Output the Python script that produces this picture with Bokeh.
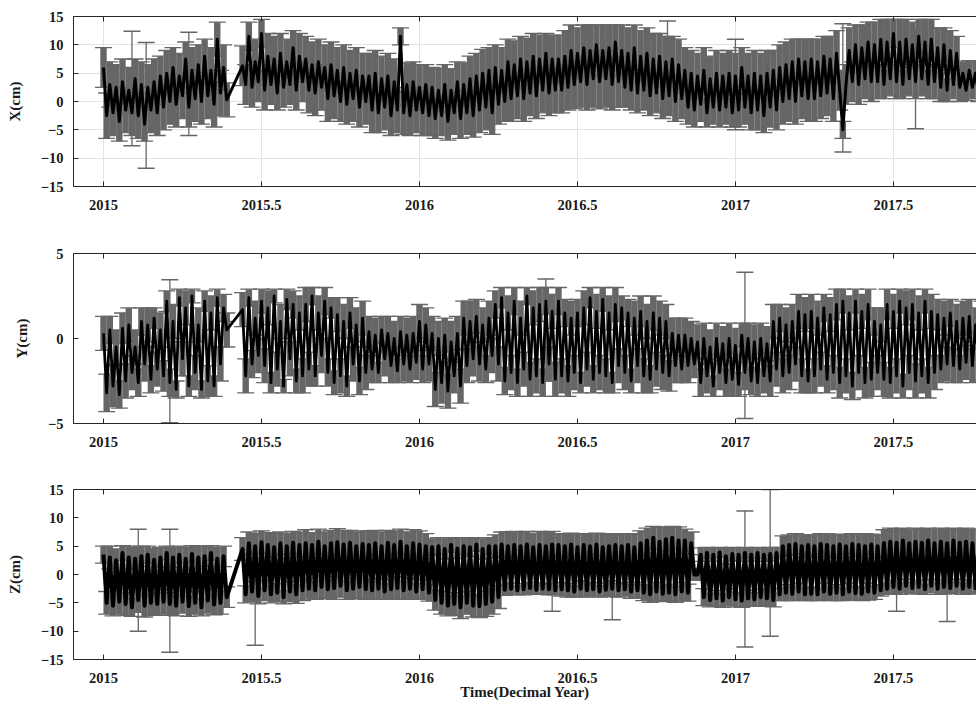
from bokeh.plotting import figure
from bokeh.models import ColumnDataSource, Whisker, TeeHead, LinearAxis, FixedTicker, Range1d
from bokeh.layouts import column
from bokeh.embed import file_html
from bokeh.resources import INLINE

# ---------------- data ----------------
t = [
    2015.00, 2015.01, 2015.02, 2015.03, 2015.04, 2015.05, 2015.06, 2015.07, 2015.08, 2015.09,
    2015.10, 2015.11, 2015.12, 2015.13, 2015.14, 2015.15, 2015.16, 2015.17, 2015.18, 2015.19,
    2015.20, 2015.21, 2015.22, 2015.23, 2015.24, 2015.25, 2015.26, 2015.27, 2015.28, 2015.29,
    2015.30, 2015.31, 2015.32, 2015.33, 2015.34, 2015.35, 2015.36, 2015.37, 2015.38, 2015.39,
    2015.44, 2015.45, 2015.46, 2015.47, 2015.48, 2015.49, 2015.50, 2015.51, 2015.52, 2015.53,
    2015.54, 2015.55, 2015.56, 2015.57, 2015.58, 2015.59, 2015.60, 2015.61, 2015.62, 2015.63,
    2015.64, 2015.65, 2015.66, 2015.67, 2015.68, 2015.69, 2015.70, 2015.71, 2015.72, 2015.73,
    2015.74, 2015.75, 2015.76, 2015.77, 2015.78, 2015.79, 2015.80, 2015.81, 2015.82, 2015.83,
    2015.84, 2015.85, 2015.86, 2015.87, 2015.88, 2015.89, 2015.90, 2015.91, 2015.92, 2015.93,
    2015.94, 2015.95, 2015.96, 2015.97, 2015.98, 2015.99, 2016.00, 2016.01, 2016.02, 2016.03,
    2016.04, 2016.05, 2016.06, 2016.07, 2016.08, 2016.09, 2016.10, 2016.11, 2016.12, 2016.13,
    2016.14, 2016.15, 2016.16, 2016.17, 2016.18, 2016.19, 2016.20, 2016.21, 2016.22, 2016.23,
    2016.24, 2016.25, 2016.26, 2016.27, 2016.28, 2016.29, 2016.30, 2016.31, 2016.32, 2016.33,
    2016.34, 2016.35, 2016.36, 2016.37, 2016.38, 2016.39, 2016.40, 2016.41, 2016.42, 2016.43,
    2016.44, 2016.45, 2016.46, 2016.47, 2016.48, 2016.49, 2016.50, 2016.51, 2016.52, 2016.53,
    2016.54, 2016.55, 2016.56, 2016.57, 2016.58, 2016.59, 2016.60, 2016.61, 2016.62, 2016.63,
    2016.64, 2016.65, 2016.66, 2016.67, 2016.68, 2016.69, 2016.70, 2016.71, 2016.72, 2016.73,
    2016.74, 2016.75, 2016.76, 2016.77, 2016.78, 2016.79, 2016.80, 2016.81, 2016.82, 2016.83,
    2016.84, 2016.85, 2016.86, 2016.87, 2016.88, 2016.89, 2016.90, 2016.91, 2016.92, 2016.93,
    2016.94, 2016.95, 2016.96, 2016.97, 2016.98, 2016.99, 2017.00, 2017.01, 2017.02, 2017.03,
    2017.04, 2017.05, 2017.06, 2017.07, 2017.08, 2017.09, 2017.10, 2017.11, 2017.12, 2017.13,
    2017.14, 2017.15, 2017.16, 2017.17, 2017.18, 2017.19, 2017.20, 2017.21, 2017.22, 2017.23,
    2017.24, 2017.25, 2017.26, 2017.27, 2017.28, 2017.29, 2017.30, 2017.31, 2017.32, 2017.33,
    2017.34, 2017.35, 2017.36, 2017.37, 2017.38, 2017.39, 2017.40, 2017.41, 2017.42, 2017.43,
    2017.44, 2017.45, 2017.46, 2017.47, 2017.48, 2017.49, 2017.50, 2017.51, 2017.52, 2017.53,
    2017.54, 2017.55, 2017.56, 2017.57, 2017.58, 2017.59, 2017.60, 2017.61, 2017.62, 2017.63,
    2017.64, 2017.65, 2017.66, 2017.67, 2017.68, 2017.69, 2017.70, 2017.71, 2017.72, 2017.73,
    2017.74, 2017.75, 2017.76, 2017.77, 2017.78, 2017.79,
]

x_val = [
    6.0, -2.5, 3.0, -2.0, 2.5, -3.5, 3.5, -1.5, 2.0, -2.0, 4.0, -2.5, 3.0, -4.0, 2.5, -1.5, 3.5, -2.0, 4.5, -1.0,
    5.0, 0.0, 6.0, -0.5, 4.5, 1.0, 7.5, -1.0, 5.5, 0.5, 6.5, 0.0, 8.0, 1.0, 5.5, -0.5, 11.0, 1.5, 6.0, 0.3,
    6.3, 3.0, 11.5, 2.5, 7.0, 3.5, 12.0, 2.0, 8.0, 3.0, 7.5, 1.5, 8.5, 2.5, 7.0, 3.0, 9.5, 2.0, 8.0, 3.5,
    7.5, 2.0, 6.5, 1.5, 7.0, 2.5, 6.0, 0.5, 6.5, 1.0, 5.5, 0.0, 6.0, -0.5, 5.0, 0.5, 5.5, -1.0, 4.5, 0.0,
    4.5, -1.5, 5.0, -2.0, 4.0, -1.0, 4.5, -2.5, 3.5, -1.5, 11.5, -2.0, 3.0, -2.5, 3.5, -1.5, 2.5, -2.0, 3.0, -2.5,
    2.5, -3.0, 2.0, -2.5, 3.0, -3.5, 2.0, -2.0, 3.5, -3.0, 3.0, -2.0, 4.0, -2.5, 4.5, -1.5, 5.0, -1.0, 5.5, -2.0,
    6.0, -0.5, 5.5, 0.0, 7.0, 0.5, 6.5, 1.0, 7.5, 0.5, 7.0, 1.5, 8.0, 1.0, 7.5, 2.0, 8.5, 1.5, 7.5, 2.0,
    7.5, 2.0, 8.0, 2.5, 9.0, 3.0, 8.5, 3.5, 9.5, 3.0, 9.0, 4.0, 10.0, 3.5, 9.0, 4.0, 9.5, 3.0, 10.5, 3.5,
    9.0, 2.5, 8.5, 2.0, 9.5, 1.5, 8.0, 2.0, 8.5, 1.0, 7.5, 1.5, 8.0, 0.5, 7.0, 1.0, 7.5, 0.0, 6.5, 0.5,
    5.5, -1.0, 5.0, -1.5, 4.5, -0.5, 5.5, -2.0, 4.0, -1.0, 5.0, -1.5, 4.5, -1.0, 5.0, -2.0, 4.5, -1.5, 6.0, -1.0,
    4.5, -2.0, 5.0, -1.5, 4.5, -2.5, 5.0, -1.0, 5.5, -1.5, 6.0, 0.0, 6.5, 0.5, 7.0, 0.0, 7.5, 1.0, 7.0, 0.5,
    7.5, 0.5, 7.0, 1.0, 8.0, 1.5, 7.5, 0.5, 8.5, 2.0, -5.0, 3.0, 9.0, 3.5, 10.0, 3.0, 9.5, 4.0, 10.5, 3.5,
    10.0, 3.5, 11.0, 3.0, 10.5, 4.0, 12.0, 3.5, 10.5, 3.0, 11.0, 4.0, 10.0, 3.5, 11.5, 4.0, 10.5, 3.0, 11.0, 3.5,
    9.5, 2.5, 10.0, 2.0, 9.0, 3.0, 8.5, 2.5, 5.0, 2.0, 5.5, 2.5, 5.0, 1.5, 5.0, 2.0,
]
x_sig = [
    3.5, 4.0, 4.0, 4.0, 4.0, 3.5, 4.0, 4.0, 4.0, 4.0, 3.5, 4.0, 4.0, 3.0, 4.0, 4.0, 4.0, 4.0, 3.5, 4.0,
    4.0, 4.0, 3.5, 4.0, 4.0, 4.0, 3.0, 3.5, 4.0, 4.0, 3.5, 4.0, 3.0, 4.0, 4.0, 4.0, 3.0, 4.0, 4.0, 3.0,
    3.5, 3.5, 2.5, 3.5, 4.0, 3.5, 2.5, 3.5, 4.0, 3.5, 4.0, 3.0, 3.5, 3.5, 4.0, 3.5, 3.0, 3.5, 4.0, 3.5,
    4.0, 4.0, 4.0, 4.0, 4.0, 4.0, 4.0, 4.0, 4.0, 4.0, 4.0, 3.5, 4.0, 3.5, 4.0, 4.0, 4.0, 3.5, 4.0, 4.0,
    4.0, 4.0, 4.0, 3.5, 4.0, 4.0, 4.0, 3.5, 4.0, 4.0, 1.5, 3.8, 3.8, 3.5, 3.5, 4.0, 4.0, 4.0, 3.5, 3.5,
    3.5, 3.5, 3.8, 3.5, 3.5, 3.3, 3.8, 3.8, 3.5, 3.5, 3.8, 3.8, 4.0, 3.8, 4.0, 4.0, 4.2, 4.0, 4.0, 3.8,
    4.0, 3.5, 4.0, 3.5, 4.0, 4.0, 4.2, 4.0, 4.0, 4.0, 4.2, 4.0, 4.0, 4.0, 4.2, 4.0, 3.5, 4.0, 4.2, 4.0,
    4.2, 4.0, 4.5, 4.0, 4.5, 4.2, 4.5, 4.5, 4.0, 4.5, 4.5, 5.0, 3.5, 4.8, 4.5, 5.0, 4.0, 4.5, 3.0, 4.5,
    4.5, 3.5, 4.5, 3.5, 4.0, 3.5, 4.5, 3.5, 4.5, 3.5, 4.5, 3.5, 4.0, 3.5, 4.5, 3.5, 4.0, 3.5, 4.5, 3.5,
    4.0, 3.0, 4.0, 3.0, 4.0, 3.0, 4.0, 2.5, 4.0, 3.0, 4.0, 3.0, 4.0, 3.0, 4.0, 2.5, 4.0, 3.0, 3.5, 3.0,
    4.0, 3.0, 4.0, 3.5, 4.0, 3.0, 4.0, 3.5, 3.5, 3.5, 4.0, 4.0, 4.0, 4.0, 4.0, 4.0, 3.5, 4.0, 4.0, 4.0,
    3.5, 4.0, 4.0, 4.0, 3.5, 4.0, 4.0, 4.0, 4.0, 3.5, 1.5, 3.5, 4.0, 3.5, 3.5, 3.5, 4.0, 3.5, 3.5, 3.5,
    4.0, 3.0, 3.5, 2.5, 4.0, 3.0, 2.5, 3.0, 4.0, 2.5, 3.5, 3.0, 4.0, 3.0, 3.0, 3.0, 4.0, 2.5, 3.5, 3.0,
    3.5, 2.5, 3.0, 2.0, 3.5, 2.5, 3.0, 2.5, 2.0, 1.8, 1.7, 2.0, 2.0, 1.5, 2.0, 1.8,
]

y_val = [
    0.3, -3.2, 0.5, -2.8, -0.5, -3.3, 0.6, -2.5, 0.8, -2.0, -0.5, -2.6, 1.0, -1.5, 0.8, -2.4, 1.2, -1.8, 0.5, -2.2,
    2.2, -2.6, 1.0, -3.0, 2.4, -1.2, 1.8, -2.8, 2.5, -2.0, 0.8, -3.0, 2.2, -2.5, 1.5, -2.8, 2.4, -1.5, 1.8, 0.5,
    1.7, -2.2, 2.4, -1.5, 1.2, -1.0, 2.2, -1.6, 1.8, -2.6, 2.5, -1.8, 1.0, -2.8, 2.3, -1.2, 2.0, -2.5, 1.5, -2.2,
    2.0, -1.8, 2.5, -2.2, 1.5, -1.0, 2.2, -2.0, 1.8, -2.6, 1.4, -2.2, 1.0, -2.8, 1.5, -1.5, 0.8, -2.5, 1.2, -2.0,
    0.4, -1.8, 0.2, -2.0, 0.5, -1.2, 0.3, -1.6, 0.0, -1.9, 0.4, -1.5, 0.2, -1.8, 0.3, -1.4, 1.0, -1.8, 0.8, -1.5,
    0.3, -3.0, 0.0, -2.6, 0.2, -3.1, -0.2, -2.2, 0.3, -2.8, 1.2, -1.6, 1.0, -1.2, 1.3, -1.5, 0.8, -1.8, 1.2, -1.0,
    2.0, -1.5, 2.4, -2.5, 1.5, -2.0, 2.2, -2.6, 1.2, -1.8, 2.5, -2.4, 1.8, -2.2, 2.0, -2.6, 2.2, -1.5, 1.6, -2.4,
    2.2, -2.2, 1.5, -2.5, 1.2, -2.0, 1.5, -2.6, 1.8, -1.8, 2.4, -2.4, 1.6, -2.0, 2.3, -2.2, 1.5, -2.6, 2.0, -1.6,
    1.8, -2.0, 1.5, -2.5, 1.2, -1.6, 1.6, -2.2, 1.0, -2.4, 1.5, -1.8, 1.2, -2.0, 1.0, -2.2, 0.3, -1.6, 0.2, -1.8,
    0.2, -1.6, 0.0, -1.5, -0.2, -2.6, 0.0, -2.2, -0.5, -2.8, 0.0, -2.0, -0.3, -2.6, 0.0, -2.4, -0.4, -2.7, 0.2, -2.0,
    0.0, -2.5, -0.2, -2.6, 0.0, -2.2, -0.3, -2.5, 1.0, -1.8, 1.2, -2.2, 0.8, -2.0, 1.0, -1.5, 1.6, -2.2, 1.4, -2.5,
    1.6, -2.2, 1.2, -1.8, 1.8, -2.4, 1.4, -2.0, 2.0, -2.6, 2.2, -2.2, 1.5, -2.8, 2.2, -2.0, 1.6, -2.6, 2.0, -2.4,
    1.0, -2.0, 0.8, -2.4, 2.0, -2.6, 1.6, -2.2, 2.2, -2.8, 1.8, -2.0, 2.0, -2.5, 1.5, -2.2, 2.2, -2.6, 1.6, -2.0,
    1.4, -1.8, 1.2, -1.5, 1.5, -1.6, 1.0, -1.8, 1.2, -1.4, 1.3, -1.6, 0.8, -1.5, 1.2, -1.2,
]
y_sig = [
    1.0, 1.1, 0.8, 1.2, 1.0, 0.8, 0.9, 1.0, 1.0, 1.0, 1.0, 0.8, 0.8, 1.0, 1.0, 0.8, 0.6, 1.0, 1.0, 0.9,
    0.6, 0.8, 1.0, 0.5, 0.5, 1.0, 1.0, 0.6, 0.4, 1.0, 1.0, 0.5, 0.6, 0.9, 1.0, 0.6, 0.5, 1.0, 0.8, 1.0,
    1.0, 1.0, 0.5, 0.8, 1.0, 1.0, 0.7, 1.0, 1.0, 0.6, 0.4, 1.0, 1.0, 0.4, 0.6, 1.0, 0.8, 0.7, 1.0, 1.0,
    1.0, 1.0, 0.5, 0.6, 1.0, 1.0, 0.8, 0.8, 0.6, 0.7, 1.0, 1.0, 1.0, 0.6, 0.9, 1.0, 1.0, 0.8, 1.0, 1.0,
    0.9, 0.8, 1.0, 0.6, 0.8, 1.0, 1.0, 1.0, 1.0, 0.7, 0.9, 1.0, 1.0, 0.8, 1.0, 1.0, 1.0, 0.8, 1.0, 1.0,
    1.0, 1.0, 1.0, 1.2, 1.0, 1.0, 1.2, 1.0, 1.0, 1.0, 1.0, 1.0, 1.2, 1.0, 1.0, 1.0, 1.0, 0.8, 1.0, 1.0,
    0.8, 1.0, 0.6, 0.8, 1.0, 1.0, 0.8, 0.8, 1.0, 1.0, 0.5, 1.0, 1.0, 1.0, 1.0, 0.8, 0.8, 1.0, 1.0, 1.0,
    0.8, 1.0, 0.8, 0.9, 1.0, 1.0, 0.8, 0.6, 1.0, 1.0, 0.6, 0.8, 1.0, 1.0, 0.7, 1.0, 1.0, 0.6, 1.0, 1.0,
    0.7, 1.0, 0.8, 0.7, 1.0, 1.0, 0.9, 1.0, 1.0, 0.8, 1.0, 1.0, 1.0, 1.0, 1.0, 0.9, 0.9, 1.0, 1.0, 0.8,
    1.0, 1.0, 1.0, 0.8, 1.0, 0.8, 0.9, 1.0, 1.0, 0.6, 0.9, 1.0, 1.0, 0.8, 0.9, 1.0, 1.0, 0.7, 0.7, 1.0,
    0.9, 0.8, 1.0, 0.8, 0.9, 1.0, 1.0, 0.9, 1.0, 1.0, 0.8, 1.0, 1.0, 1.0, 1.0, 1.0, 1.0, 1.0, 1.0, 0.7,
    1.0, 1.0, 1.0, 1.0, 0.8, 0.8, 1.0, 1.0, 0.9, 0.9, 0.7, 1.0, 1.0, 0.8, 0.7, 1.0, 1.0, 0.9, 0.9, 1.0,
    0.8, 1.0, 1.0, 1.0, 0.9, 0.9, 1.0, 1.0, 0.7, 0.7, 1.0, 1.0, 0.9, 1.0, 1.0, 1.0, 0.7, 0.9, 1.0, 1.0,
    0.9, 0.8, 1.0, 1.0, 0.8, 1.0, 1.0, 0.8, 1.0, 1.0, 1.0, 1.0, 1.0, 1.0, 1.0, 1.0,
]

z_val = [
    3.5, -5.0, 3.0, -5.5, 2.5, -4.8, 3.8, -5.2, 3.0, -5.8, 2.8, -4.5, 3.2, -5.5, 3.5, -5.0, 2.6, -5.2, 3.0, -4.8,
    3.8, -5.2, 3.0, -5.5, 3.5, -4.8, 2.8, -5.6, 3.6, -5.0, 3.0, -5.8, 3.2, -4.6, 3.8, -5.3, 2.8, -5.0, 3.2, -4.0,
    4.5, -3.5, 5.5, -3.0, 5.0, -3.8, 5.7, -2.8, 5.2, -3.5, 4.8, -3.2, 5.5, -4.0, 5.0, -3.0, 5.6, -3.5, 5.2, -2.8,
    5.5, -2.5, 5.2, -2.8, 5.8, -2.2, 5.0, -2.6, 5.5, -2.4, 5.7, -2.0, 5.3, -2.8, 5.6, -2.5, 5.0, -2.2, 5.4, -2.6,
    5.2, -2.8, 5.5, -2.5, 5.0, -3.0, 5.6, -2.6, 5.2, -2.4, 5.8, -2.8, 5.0, -2.5, 5.5, -3.0, 5.3, -2.6, 5.0, -3.2,
    4.8, -4.5, 5.0, -5.0, 4.5, -5.5, 5.2, -5.2, 4.6, -5.8, 5.0, -5.0, 4.8, -5.5, 5.3, -5.6, 4.5, -5.2, 5.0, -4.8,
    5.0, -4.0, 5.3, -2.7, 5.0, -2.5, 5.2, -2.8, 5.0, -2.6, 5.3, -2.4, 4.8, -2.7, 5.2, -2.5, 5.0, -2.6, 5.3, -2.8,
    5.2, -2.6, 5.0, -2.8, 5.3, -3.0, 4.8, -2.5, 5.2, -2.8, 5.0, -2.6, 5.3, -3.0, 4.8, -2.7, 5.0, -2.5, 5.2, -2.8,
    5.0, -2.6, 5.2, -3.0, 4.8, -2.8, 5.5, -3.2, 6.0, -3.5, 6.5, -3.0, 5.8, -3.4, 6.2, -3.2, 6.5, -3.5, 6.0, -3.0,
    6.0, -3.2, 5.5, 0.0, 0.0, 3.5, -4.0, 3.8, -4.5, 3.5, -4.2, 3.9, -4.6, 3.2, -4.0, 3.6, -4.4, 3.5, -4.6, 3.8,
    -4.2, 3.5, -4.4, 3.8, -4.0, 3.5, -4.2, 3.6, -4.5, 3.8, -3.5, 5.0, -3.2, 5.2, -3.4, 5.4, -3.0, 5.0, -3.5, 5.2,
    -3.4, 5.0, -3.5, 5.4, -3.0, 5.2, -3.4, 5.0, -3.2, 5.3, -3.5, 5.0, -3.0, 5.4, -3.3, 5.2, -3.4, 5.0, -3.0, 5.3,
    -3.2, 5.0, -2.8, 5.5, -2.5, 5.8, -2.2, 5.6, -2.5, 6.0, -2.0, 5.5, -2.4, 5.8, -2.2, 5.6, -2.6, 6.0, -2.0, 5.5,
    -2.5, 5.8, -2.2, 5.5, -2.4, 6.0, -2.0, 5.6, -2.5, 5.8, -2.2, 5.5, -2.4, 5.6, -2.0, 5.5,
]
z_sig = [
    1.5, 2.0, 2.0, 1.8, 2.0, 2.2, 1.3, 2.0, 2.0, 1.6, 2.0, 2.2, 1.8, 2.0, 1.5, 2.2, 2.0, 2.0, 1.8, 2.2,
    1.2, 2.0, 1.8, 1.8, 1.5, 2.0, 2.0, 1.8, 1.5, 2.0, 2.0, 1.5, 1.8, 2.2, 1.3, 1.8, 2.0, 2.0, 1.8, 1.8,
    2.0, 1.5, 2.0, 1.8, 2.2, 1.4, 2.0, 1.8, 2.2, 1.5, 2.4, 1.6, 2.0, 1.2, 2.2, 1.8, 2.0, 1.6, 2.2, 1.8,
    2.4, 1.8, 2.2, 1.6, 2.2, 2.0, 2.5, 1.7, 2.3, 2.0, 2.4, 2.0, 2.5, 1.6, 2.2, 1.8, 2.5, 2.0, 2.3, 1.8,
    2.5, 1.6, 2.3, 1.8, 2.5, 1.4, 2.2, 1.8, 2.4, 2.0, 2.2, 1.6, 2.5, 1.8, 2.4, 1.4, 2.4, 1.8, 2.2, 1.5,
    1.5, 1.8, 1.5, 2.0, 1.8, 1.8, 1.3, 2.0, 1.8, 2.0, 1.5, 2.0, 1.6, 2.0, 1.2, 2.0, 1.8, 2.2, 1.5, 2.2,
    2.0, 2.0, 2.2, 1.0, 2.5, 1.0, 2.4, 0.8, 2.5, 1.0, 2.3, 1.0, 2.5, 0.8, 2.4, 1.0, 2.5, 1.0, 2.3, 0.8,
    2.0, 1.2, 2.2, 1.2, 2.0, 1.0, 2.4, 1.4, 2.0, 1.2, 2.2, 1.2, 2.0, 1.0, 2.4, 1.2, 2.2, 1.4, 2.0, 1.2,
    2.2, 1.2, 2.0, 1.2, 2.4, 1.4, 2.2, 1.4, 2.2, 1.4, 2.0, 1.6, 2.5, 1.4, 2.2, 1.5, 2.0, 1.4, 2.4, 1.6,
    2.0, 1.5, 2.0, 1.0, 1.0, 1.2, 1.5, 1.0, 1.2, 1.2, 1.4, 0.9, 1.2, 1.4, 1.5, 1.2, 1.3, 1.2, 1.2, 1.0,
    1.4, 1.2, 1.2, 1.0, 1.5, 1.2, 1.4, 1.2, 1.2, 1.0, 1.1, 1.8, 1.4, 1.8, 1.2, 1.8, 1.5, 2.0, 1.1, 1.8,
    1.2, 2.0, 1.1, 1.8, 1.5, 2.0, 1.2, 2.0, 1.4, 1.8, 1.1, 2.0, 1.5, 1.8, 1.2, 2.0, 1.2, 2.2, 1.5, 1.8,
    1.2, 2.0, 1.0, 2.4, 1.0, 2.4, 1.2, 2.5, 1.0, 2.2, 1.2, 2.5, 1.0, 2.4, 1.2, 2.5, 0.9, 2.2, 1.2, 2.5,
    1.0, 2.4, 1.2, 2.5, 1.0, 2.2, 1.2, 2.5, 1.0, 2.4, 1.2, 2.5, 1.0, 2.4, 1.2, 2.5,
]

# isolated epochs with very large error bars
x_out_t = [2015.09, 2015.135, 2015.27, 2016.785, 2017.00, 2017.34, 2017.57]
x_out_v = [2.3, -0.7, 3.1, 6.3, 3.0, 2.4, 4.0]
x_out_s = [10.1, 11.1, 9.1, 7.9, 8.0, 11.3, 8.8]

y_out_t = [2015.21, 2016.40, 2017.03]
y_out_v = [-0.75, 0.5, -0.4]
y_out_s = [4.2, 3.0, 4.3]

z_out_t = [2015.11, 2015.21, 2015.48, 2016.42, 2016.61, 2017.03, 2017.11, 2017.51, 2017.67]
z_out_v = [-1.0, -2.85, -2.75, 0.0, -0.5, -0.8, 2.05, 0.5, -0.15]
z_out_s = [9.0, 10.85, 9.75, 6.5, 7.5, 12.0, 12.95, 7.0, 8.15]

x_ticks = [2015, 2015.5, 2016, 2016.5, 2017, 2017.5]
x_tick_labels = ["2015", "2015.5", "2016", "2016.5", "2017", "2017.5"]
xyz_ticks = [-15, -10, -5, 0, 5, 10, 15]
y_ticks = [-5, 0, 5]

for name, arr in (("x_val", x_val), ("x_sig", x_sig), ("y_val", y_val),
                  ("y_sig", y_sig), ("z_val", z_val), ("z_sig", z_sig)):
    assert len(arr) == len(t), (name, len(arr), len(t))

# ---------------- styling ----------------
FONT = "Liberation Serif"
AX = "#262626"
GRAY = "#666666"
X_RANGE = (2014.905, 2017.763)


def minus(v):
    return str(v).replace("-", "\u2212")


def panel(vals, sig, ot, ov, os_, ylim, yticks, ylabel, height, top_b, bottom_b,
          grid=False, xlabel=None, lw=1.5):
    p = figure(width=976, height=height, x_range=Range1d(*X_RANGE),
               y_range=Range1d(*ylim), output_backend="svg",
               toolbar_location=None, min_border_left=73, min_border_right=0,
               min_border_top=top_b, min_border_bottom=bottom_b)
    p.outline_line_color = None
    p.background_fill_color = "white"
    p.border_fill_color = "white"

    xa = p.xaxis[0]
    xa.ticker = FixedTicker(ticks=x_ticks)
    xa.major_label_overrides = {k: v for k, v in zip(x_ticks, x_tick_labels)}
    xa.major_label_standoff = 13
    ya = p.yaxis[0]
    ya.ticker = FixedTicker(ticks=yticks)
    ya.major_label_overrides = {k: minus(k) for k in yticks}
    ya.major_label_standoff = 10
    ya.axis_label = ylabel
    ya.axis_label_standoff = 15
    for ax in (xa, ya):
        ax.axis_line_color = AX
        ax.major_tick_line_color = AX
        ax.major_tick_in = 5
        ax.major_tick_out = 0
        ax.minor_tick_line_color = None
        ax.major_label_text_font = FONT
        ax.major_label_text_font_style = "bold"
        ax.major_label_text_font_size = "14.5px"
        ax.major_label_text_color = "#1a1a1a"
        ax.axis_label_text_font = FONT
        ax.axis_label_text_font_style = "bold"
        ax.axis_label_text_font_size = "15px"
        ax.axis_label_text_color = "#1a1a1a"
    if xlabel:
        xa.axis_label = xlabel
        xa.axis_label_standoff = -2

    # top frame line with inward ticks, no labels
    top = LinearAxis(ticker=FixedTicker(ticks=x_ticks), axis_line_color=AX,
                     major_tick_line_color=AX, major_tick_in=5, major_tick_out=0,
                     minor_tick_line_color=None, major_label_text_color=None,
                     major_label_standoff=0)
    p.add_layout(top, "above")

    if grid:
        p.xgrid.ticker = FixedTicker(ticks=x_ticks)
        p.ygrid.ticker = FixedTicker(ticks=yticks)
        p.grid.grid_line_color = "#e4e4e4"
        p.grid.grid_line_width = 1
    else:
        p.grid.visible = False

    src = ColumnDataSource(dict(
        t=t, v=vals,
        lo=[v - s for v, s in zip(vals, sig)],
        hi=[v + s for v, s in zip(vals, sig)],
    ))
    w = Whisker(source=src, base="t", lower="lo", upper="hi", dimension="height",
                line_color=GRAY, line_width=6.4, level="underlay",
                upper_head=TeeHead(size=17, line_color=GRAY, line_width=1.3),
                lower_head=TeeHead(size=17, line_color=GRAY, line_width=1.3))
    p.add_layout(w)

    osrc = ColumnDataSource(dict(
        t=ot,
        lo=[v - s for v, s in zip(ov, os_)],
        hi=[v + s for v, s in zip(ov, os_)],
    ))
    wo = Whisker(source=osrc, base="t", lower="lo", upper="hi", dimension="height",
                 line_color=GRAY, line_width=1.3, level="underlay",
                 upper_head=TeeHead(size=17, line_color=GRAY, line_width=1.5),
                 lower_head=TeeHead(size=17, line_color=GRAY, line_width=1.5))
    p.add_layout(wo)

    p.line("t", "v", source=src, line_color="black", line_width=lw, line_join="round")
    return p


p1 = panel(x_val, x_sig, x_out_t, x_out_v, x_out_s, (-15, 15), xyz_ticks, "X(cm)",
           245, 16, 59, grid=True, lw=3.0)
p2 = panel(y_val, y_sig, y_out_t, y_out_v, y_out_s, (-5, 5), y_ticks, "Y(cm)",
           236, 8, 58, lw=2.8)
p3 = panel(z_val, z_sig, z_out_t, z_out_v, z_out_s, (-15, 15), xyz_ticks, "Z(cm)",
           229, 8, 51, xlabel="Time(Decimal Year)", lw=4.0)

layout = column(p1, p2, p3, spacing=0)
open("out.html", "w").write(file_html(layout, INLINE))
